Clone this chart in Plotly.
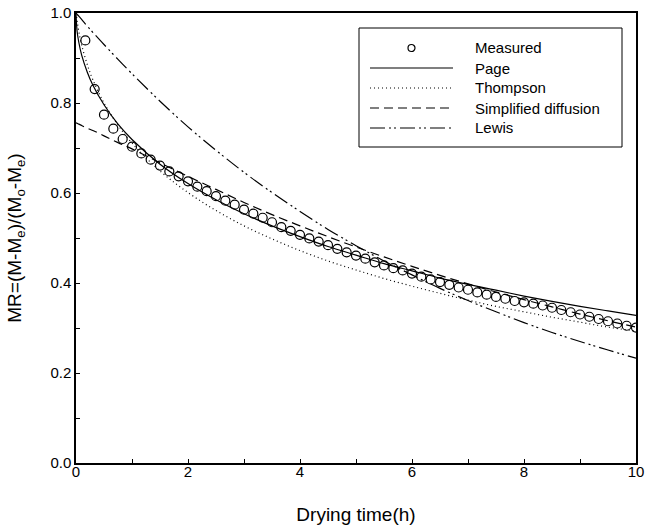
import plotly.graph_objects as go

# measured moisture ratio, every 10 min
measured_time = [k / 6 for k in range(1, 61)]
measured_mr = [
    0.939, 0.831, 0.774, 0.743, 0.720, 0.703, 0.688, 0.674, 0.661, 0.648,
    0.637, 0.626, 0.614, 0.604, 0.593, 0.583, 0.574, 0.563, 0.554, 0.545,
    0.535, 0.524, 0.516, 0.507, 0.499, 0.492, 0.484, 0.476, 0.468, 0.461,
    0.454, 0.446, 0.439, 0.433, 0.428, 0.421, 0.414, 0.408, 0.402, 0.396,
    0.390, 0.385, 0.379, 0.374, 0.369, 0.365, 0.360, 0.357, 0.354, 0.350,
    0.345, 0.340, 0.335, 0.330, 0.325, 0.320, 0.315, 0.310, 0.305, 0.301,
]

# model curves
model_time = [0, 0.02, 0.05, 0.1, 0.2, 0.3, 0.5, 0.75, 1, 1.5, 2, 2.5, 3, 3.5,
              4, 4.5, 5, 5.5, 6, 6.5, 7, 7.5, 8, 8.5, 9, 9.5, 10]
page_mr = [1.0, 0.959, 0.935, 0.907, 0.869, 0.840, 0.796, 0.753, 0.719, 0.664,
           0.621, 0.585, 0.554, 0.527, 0.503, 0.481, 0.462, 0.443, 0.427, 0.411,
           0.397, 0.384, 0.371, 0.359, 0.348, 0.338, 0.328]
thompson_mr = [1.0, 0.983, 0.959, 0.929, 0.886, 0.852, 0.800, 0.751, 0.711, 0.649,
               0.601, 0.561, 0.527, 0.498, 0.472, 0.449, 0.429, 0.410, 0.393, 0.377,
               0.362, 0.348, 0.336, 0.324, 0.313, 0.302, 0.293]
diffusion_mr = [0.756, 0.755, 0.753, 0.750, 0.744, 0.739, 0.727, 0.712, 0.698, 0.667,
                0.637, 0.608, 0.579, 0.552, 0.527, 0.503, 0.480, 0.458, 0.437, 0.417,
                0.398, 0.380, 0.363, 0.347, 0.331, 0.316, 0.302]
lewis_mr = [1.0, 0.997, 0.993, 0.986, 0.971, 0.957, 0.930, 0.897, 0.865, 0.804,
            0.747, 0.695, 0.646, 0.601, 0.559, 0.519, 0.483, 0.449, 0.418, 0.388,
            0.361, 0.336, 0.312, 0.290, 0.270, 0.251, 0.233]

FONT = "Liberation Sans, Arial, sans-serif"
W, H = 646, 528
ML, MR, MT, MB = 76, 10, 13, 65
PW, PH = W - ML - MR, H - MT - MB

# dash patterns per model
styles = {
    "Page": "solid",
    "Thompson": "1px,3px",
    "Simplified diffusion": "9px,5px",
    "Lewis": "15px,4px,2px,3px,2px,4px",
}

fig = go.Figure()

fig.add_trace(go.Scatter(
    x=measured_time, y=measured_mr, mode="markers", name="Measured",
    marker=dict(symbol="circle-open", size=9, color="black", line=dict(width=1.2)),
))
for name, vals in [("Page", page_mr), ("Thompson", thompson_mr),
                   ("Simplified diffusion", diffusion_mr), ("Lewis", lewis_mr)]:
    fig.add_trace(go.Scatter(
        x=model_time, y=vals, mode="lines", name=name, line_shape="spline",
        line=dict(color="black", width=1.2, dash=styles[name]),
    ))

axis_common = dict(
    showgrid=False, zeroline=False, showline=True, linecolor="black", linewidth=1.5,
    mirror=True, ticks="inside", ticklen=4, tickwidth=1, tickcolor="black",
    tickfont=dict(family=FONT, size=15, color="black"), automargin=False,
    minor=dict(ticks="inside", ticklen=4, tickwidth=1, tickcolor="black", showgrid=False),
)

fig.update_xaxes(
    range=[0, 10], tickvals=[0, 2, 4, 6, 8, 10], minor_dtick=1,
    ticklabelstandoff=-6,
    title=dict(text="Drying time(h)", font=dict(family=FONT, size=19, color="black"),
               standoff=29),
    **axis_common,
)
fig.update_yaxes(
    range=[0, 1.0], tickvals=[0, 0.2, 0.4, 0.6, 0.8, 1.0], tickformat=".1f",
    minor_dtick=0.1,
    title=dict(text="MR=(M-M<sub>e</sub>)/(M<sub>o</sub>-M<sub>e</sub>)",
               font=dict(family=FONT, size=19, color="black"), standoff=24),
    **axis_common,
)


# hand-drawn legend box (pixel positions converted to paper coords)
def px(x):
    return (x - ML) / PW


def py(y):
    return (H - MB - y) / PH


shapes = [dict(type="rect", xref="paper", yref="paper",
               x0=px(359), x1=px(622), y0=py(147), y1=py(28),
               line=dict(color="black", width=1), fillcolor="white", layer="above")]
annotations = []
row_y = 48
for name in ["Measured", "Page", "Thompson", "Simplified diffusion", "Lewis"]:
    if name == "Measured":
        shapes.append(dict(type="circle", xref="paper", yref="paper",
                           xsizemode="pixel", ysizemode="pixel",
                           xanchor=px(411.5), yanchor=py(row_y),
                           x0=-3.5, x1=3.5, y0=-3.5, y1=3.5,
                           line=dict(color="black", width=1.2), layer="above"))
    else:
        shapes.append(dict(type="line", xref="paper", yref="paper",
                           x0=px(370), x1=px(453), y0=py(row_y), y1=py(row_y),
                           line=dict(color="black", width=1.2, dash=styles[name]),
                           layer="above"))
    annotations.append(dict(text=name, xref="paper", yref="paper",
                            x=px(473), y=py(row_y), xanchor="left", yanchor="middle",
                            showarrow=False,
                            font=dict(family=FONT, size=15, color="black")))
    row_y += 20

fig.update_layout(
    width=W, height=H,
    margin=dict(l=ML, r=MR, t=MT, b=MB),
    paper_bgcolor="white", plot_bgcolor="white",
    showlegend=False,
    shapes=shapes, annotations=annotations,
)

# the page body has a default 8px margin; drop it so the figure fills the window
fig.write_html("out.html", config={"displayModeBar": False},
               post_script="document.body.style.margin='0';")
